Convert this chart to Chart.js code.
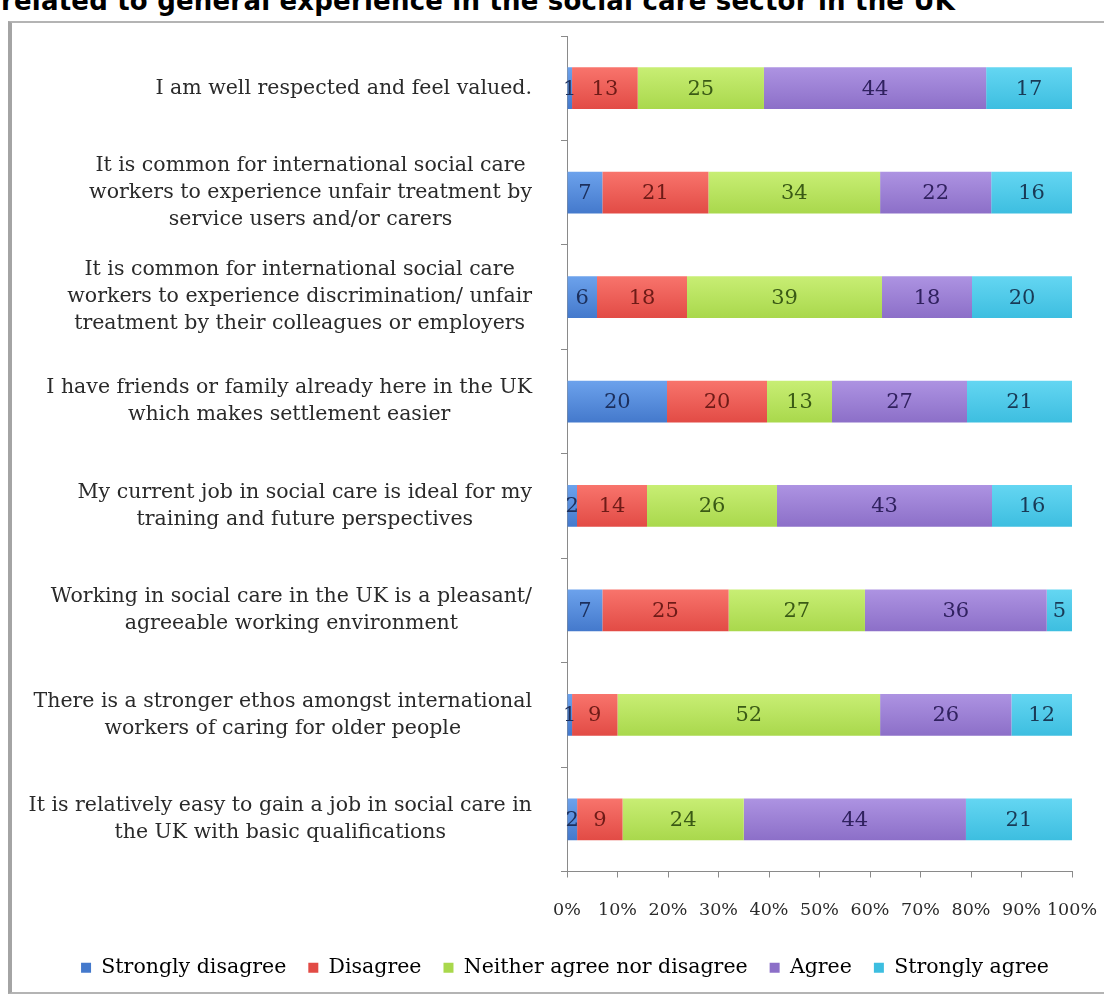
<!DOCTYPE html>
<html>
<head>
<meta charset="utf-8">
<script src="https://cdn.jsdelivr.net/npm/chart.js@4.4.0/dist/chart.umd.min.js"></script>
<style>
    html, body { margin: 0; padding: 0; background: #fff; overflow: hidden; }
    body { width: 1104px; height: 996px; position: relative; }
    .title { position: absolute; left: 1px; top: -14px; font: bold 26px "DejaVu Sans", Verdana, sans-serif; letter-spacing: 0.2px; color: #000; white-space: nowrap; }
    .frame { position: absolute; left: 8px; top: 21px; width: 1092px; height: 969px; border: 2px solid #b4b4b4; border-left: 4px solid #a4a4a4; }
    canvas { position: absolute; left: 0; top: 0; }
</style>
</head>
<body>
<div class="title">related to general experience in the social care sector in the UK</div>
<div class="frame"></div>
<canvas id="likertChart" width="1104" height="996"></canvas>
<script>

// statements, one array of lines per bar
var statements = [
    ["I am well respected and feel valued."],
    ["It is common for international social care", "workers to experience unfair treatment by", "service users and/or carers"],
    ["It is common for international social care", "workers to experience discrimination/ unfair", "treatment by their colleagues or employers"],
    ["I have friends or family already here in the UK", "which makes settlement easier"],
    ["My current job in social care is ideal for my", "training and future perspectives"],
    ["Working in social care in the UK is a pleasant/", "agreeable working environment"],
    ["There is a stronger ethos amongst international", "workers of caring for older people"],
    ["It is relatively easy to gain a job in social care in", "the UK with basic qualifications"]
];

var responseNames = ["Strongly disagree", "Disagree", "Neither agree nor disagree", "Agree", "Strongly agree"];

var stronglyDisagree = [1, 7, 6, 20, 2, 7, 1, 2];
var disagree = [13, 21, 18, 20, 14, 25, 9, 9];
var neither = [25, 34, 39, 13, 26, 27, 52, 24];
var agree = [44, 22, 18, 27, 43, 36, 26, 44];
var stronglyAgree = [17, 16, 20, 21, 16, 5, 12, 21];

var percentTicks = [0, 10, 20, 30, 40, 50, 60, 70, 80, 90, 100];

var responses = [stronglyDisagree, disagree, neither, agree, stronglyAgree];

// fill colours: [top, bottom] of each bar gradient, plus the value label colour
var fills = [
    ["#6ca2ec", "#4479cc"],
    ["#f8746c", "#e24b45"],
    ["#c8ee74", "#a9d84c"],
    ["#ad93e2", "#8c6fc8"],
    ["#64d6f2", "#3dbee0"]
];
var labelColors = ["#1c2f5c", "#6e1b17", "#3a5a15", "#30215f", "#193a56"];

var serif = "'DejaVu Serif', Cambria, serif";

// 100% stacked: every row is scaled by its own total
var totals = statements.map(function (s, i) {
    return responses.reduce(function (sum, r) { return sum + r[i]; }, 0);
});

function shares(values) {
    return values.map(function (v, i) { return v / totals[i] * 100; });
}

function barFill(d) {
    return function (ctx) {
        var chart = ctx.chart;
        var yScale = chart.scales && chart.scales.y;
        if (!chart.chartArea || !yScale) {
            return fills[d][0];
        }
        var y = yScale.getPixelForValue(ctx.dataIndex);
        var h = yScale.height / statements.length * 0.4 / 2;
        var g = chart.ctx.createLinearGradient(0, y - h, 0, y + h);
        g.addColorStop(0, fills[d][0]);
        g.addColorStop(1, fills[d][1]);
        return g;
    };
}

var datasets = responses.map(function (values, d) {
    return {
        label: responseNames[d],
        data: shares(values),
        backgroundColor: barFill(d),
        borderWidth: 0,
        barPercentage: 0.4,
        categoryPercentage: 1.0
    };
});

// raw counts written in the middle of each segment
var valueLabels = {
    id: 'valueLabels',
    afterDatasetsDraw: function (chart) {
        var ctx = chart.ctx;
        ctx.save();
        ctx.font = "21px " + serif;
        ctx.textAlign = 'center';
        ctx.textBaseline = 'middle';
        responses.forEach(function (values, d) {
            ctx.fillStyle = labelColors[d];
            chart.getDatasetMeta(d).data.forEach(function (bar, i) {
                ctx.fillText(String(values[i]), (bar.x + bar.base) / 2, bar.y + 1);
            });
        });
        ctx.restore();
    }
};

// category labels: block right aligned to the axis, each line centred in it
var statementLabels = {
    id: 'statementLabels',
    afterDraw: function (chart) {
        var ctx = chart.ctx;
        var yScale = chart.scales.y;
        var right = yScale.right - 35;
        var lineH = 27;
        ctx.save();
        ctx.font = "20.5px " + serif;
        ctx.fillStyle = "#2a2a2a";
        ctx.textAlign = 'center';
        ctx.textBaseline = 'middle';
        statements.forEach(function (lines, i) {
            var y = yScale.getPixelForValue(i);
            var widest = Math.max.apply(null, lines.map(function (l) { return ctx.measureText(l).width; }));
            var cx = right - widest / 2;
            var y0 = y - (lines.length - 1) * lineH / 2;
            lines.forEach(function (line, k) {
                ctx.fillText(line, cx, y0 + k * lineH);
            });
        });
        ctx.restore();
    }
};

var ctx1 = document.getElementById("likertChart").getContext("2d");
new Chart(ctx1, {
    type: 'bar',
    data: {
        labels: statements.map(function (s) { return s.join(' '); }),
        datasets: datasets
    },
    options: {
        indexAxis: 'y',
        responsive: false,
        animation: false,
        layout: {
            padding: { top: 36, right: 32, bottom: 8, left: 58 }
        },
        scales: {
            x: {
                stacked: true,
                min: 0,
                max: 100,
                afterBuildTicks: function (scale) {
                    scale.ticks = percentTicks.map(function (v) { return { value: v }; });
                },
                afterFit: function (scale) { scale.height = 64; scale.paddingRight = 0; },
                grid: { drawOnChartArea: false, drawTicks: true, tickLength: 6, color: '#8a8a8a' },
                border: { color: '#8a8a8a' },
                ticks: {
                    padding: 22,
                    color: '#2a2a2a',
                    autoSkip: false,
                    font: { family: serif, size: 17.5 },
                    maxRotation: 0,
                    callback: function (v) { return v + '%'; }
                }
            },
            y: {
                stacked: true,
                afterFit: function (scale) { scale.width = 509; },
                grid: { drawOnChartArea: false, drawTicks: true, tickLength: 6, color: '#8a8a8a', offset: true },
                border: { color: '#8a8a8a' },
                ticks: { display: false }
            }
        },
        plugins: {
            legend: {
                position: 'bottom',
                labels: {
                    boxWidth: 10,
                    boxHeight: 10,
                    padding: 22,
                    color: '#2a2a2a',
                    font: { family: serif, size: 20.5 },
                    generateLabels: function (chart) {
                        return responseNames.map(function (name, d) {
                            return {
                                text: name,
                                fillStyle: fills[d][1],
                                strokeStyle: fills[d][1],
                                lineWidth: 0,
                                datasetIndex: d
                            };
                        });
                    }
                }
            },
            tooltip: { enabled: false }
        }
    },
    plugins: [valueLabels, statementLabels]
});

</script>
</body>
</html>
